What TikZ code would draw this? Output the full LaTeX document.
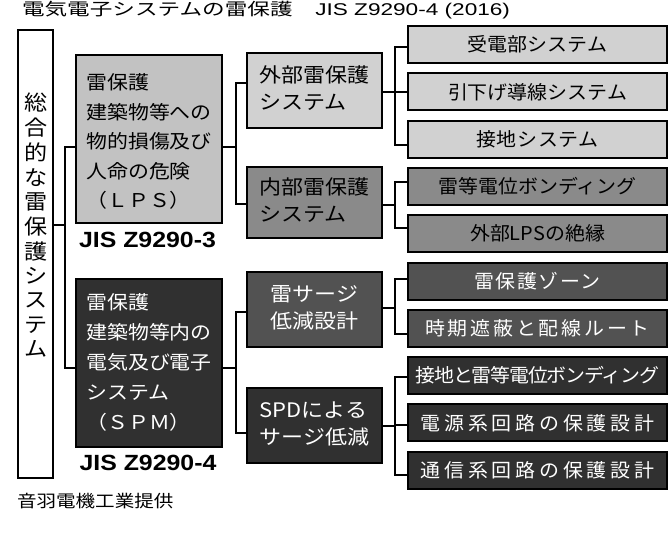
\documentclass[tikz,border=0pt]{standalone}
\usepackage{fontspec}
\usepackage{graphicx}
\setmainfont{Noto Sans CJK JP}
\newfontfamily\ars{Liberation Sans}
\usetikzlibrary{calc}
\definecolor{cLPS}{gray}{0.76}
\definecolor{cExt}{gray}{0.82}
\definecolor{cInt}{gray}{0.54}
\definecolor{cSur}{gray}{0.32}
\definecolor{cDark}{gray}{0.19}
\newcommand{\hsx}[2]{\scalebox{#1}[1]{#2}}
\newcommand{\rtx}[2]{\hsx{1.05}{\fontsize{19}{22}\selectfont\addfontfeatures{LetterSpace=#1}#2}}
\newcommand{\mtx}[2]{\hsx{1.1}{\fontsize{20}{27}\selectfont\begin{tabular}{@{}l@{}}#1\\#2\end{tabular}}}
\tikzset{
  every node/.style={inner sep=0pt, outer sep=0pt},
  box/.style={draw=black, line width=2pt, rectangle},
  rbox/.style={box, minimum width=259pt, minimum height=37pt},
  mbox/.style={box, minimum width=135pt},
  conn/.style={draw=black, line width=2pt},
}
\begin{document}
\begin{tikzpicture}[x=1pt,y=-1pt]
\fill[white] (0,0) rectangle (669,556);
\useasboundingbox (0,0) rectangle (669,556);

% title
\node[anchor=west] (title) at (22,10.5) {\hsx{1.33}{\fontsize{17}{20}\selectfont 電気電子システムの雷保護　{\ars JIS Z9290-4 (2016)}}};

% left box
\node[box, line width=1.5pt, fill=white, minimum width=35pt, minimum height=448pt] (L) at (35.5,254) {};
\node (Lt) at (36,228.5) {\hsx{1.1}{\fontsize{21}{24.3}\selectfont\begin{tabular}{@{}c@{}}総\\合\\的\\な\\雷\\保\\護\\シ\\ス\\テ\\ム\end{tabular}}};

% level 1
\node[box, fill=cLPS, minimum width=146pt, minimum height=168pt] (lps) at (149,139)
  {\raisebox{-4pt}[\height][\depth]{\hsx{1.1}{\fontsize{19}{29.5}\selectfont\begin{tabular}{@{}l@{}}雷保護\\建築物等への\\物的損傷及び\\人命の危険\\（ＬＰＳ）\end{tabular}}}};
\node (j3) at (147.5,239.5) {\hsx{1.13}{\ars\bfseries\fontsize{22}{24}\selectfont JIS Z9290-3}};
\node[box, fill=cDark, text=white, minimum width=146pt, minimum height=168pt] (spm) at (149,363)
  {\hsx{1.1}{\fontsize{19}{30}\selectfont\begin{tabular}{@{}l@{}}雷保護\\建築物等内の\\電気及び電子\\システム\\（ＳＰＭ）\end{tabular}}};
\node (j4) at (148,463) {\hsx{1.13}{\ars\bfseries\fontsize{22}{24}\selectfont JIS Z9290-4}};

% level 2
\node[mbox, fill=cExt, minimum height=75pt] (ext) at (314.5,90.5) {\mtx{外部雷保護}{システム}};
\node[mbox, fill=cInt, minimum height=71pt] (int) at (314.5,202.5) {\mtx{内部雷保護}{システム}};
\node[mbox, fill=cSur, text=white, minimum height=75pt] (sur) at (314.5,309.5) {\mtx{雷サージ}{低減設計}};
\node[mbox, fill=cDark, text=white, minimum height=75pt] (spd) at (314.5,425.5) {\mtx{SPDによる}{サージ低減}};

% level 3
\node[rbox, fill=cExt] (r1) at (537.5,44.5) {\rtx{0}{受電部システム}};
\node[rbox, fill=cExt] (r2) at (537.5,91.8) {\rtx{0}{引下げ導線システム}};
\node[rbox, fill=cExt] (r3) at (537.5,139.1) {\rtx{3}{接地システム}};
\node[rbox, fill=cInt] (r4) at (537.5,186.4) {\rtx{0}{雷等電位ボンディング}};
\node[rbox, fill=cInt] (r5) at (537.5,233.7) {\rtx{0}{外部LPSの絶縁}};
\node[rbox, fill=cSur, text=white] (r6) at (537.5,281.0) {\rtx{8}{雷保護ゾーン}};
\node[rbox, fill=cSur, text=white] (r7) at (537.5,328.3) {\rtx{14}{時期遮蔽と配線ルート}};
\node[rbox, fill=cDark, text=white] (r8) at (537.5,375.6) {\rtx{-6}{接地と雷等電位ボンディング}};
\node[rbox, fill=cDark, text=white] (r9) at (537.5,422.9) {\rtx{19}{電源系回路の保護設計}};
\node[rbox, fill=cDark, text=white] (r10) at (537.5,470.2) {\rtx{19}{通信系回路の保護設計}};

% footer
\node[anchor=west] (src) at (17,501) {\hsx{1.15}{\fontsize{17}{20}\selectfont 音羽電機工業提供}};

% connectors
\draw[conn] ($(L.east)+(0,-29)$) -| ($(lps.west)+(-11,8)$) -- ($(lps.west)+(0,8)$);
\draw[conn] ($(L.east)+(0,-29)$) -| ($(spm.west)+(-11,5)$) -- ($(spm.west)+(0,5)$);

\draw[conn] ($(lps.east)+(0,8)$) -| ($(ext.west)+(-11,-7.5)$) -- ($(ext.west)+(0,-7.5)$);
\draw[conn] ($(lps.east)+(0,8)$) -| ($(int.west)+(-11,1.5)$) -- ($(int.west)+(0,1.5)$);
\draw[conn] ($(spm.east)+(0,5)$) -| ($(sur.west)+(-11,2.5)$) -- ($(sur.west)+(0,2.5)$);
\draw[conn] ($(spm.east)+(0,5)$) -| ($(spd.west)+(-11,7.5)$) -- ($(spd.west)+(0,7.5)$);

\draw[conn] ($(ext.east)+(0,1.5)$) -| ($(r1.west)+(-13,2.5)$) -- ($(r1.west)+(0,2.5)$);
\draw[conn] ($(ext.east)+(0,1.5)$) -| ($(r2.west)+(-13,0)$) -- (r2.west);
\draw[conn] ($(ext.east)+(0,1.5)$) -| ($(r3.west)+(-13,6)$) -- ($(r3.west)+(0,6)$);

\draw[conn] ($(int.east)+(0,2.5)$) -| ($(r4.west)+(-13,-4.5)$) -- ($(r4.west)+(0,-4.5)$);
\draw[conn] ($(int.east)+(0,2.5)$) -| ($(r5.west)+(-13,-5.5)$) -- ($(r5.west)+(0,-5.5)$);

\draw[conn] ($(sur.east)+(0,-1.5)$) -| ($(r6.west)+(-13,-2)$) -- ($(r6.west)+(0,-2)$);
\draw[conn] ($(sur.east)+(0,-1.5)$) -| ($(r7.west)+(-13,5.7)$) -- ($(r7.west)+(0,5.7)$);

\draw[conn] ($(spd.east)+(0,0)$) -| ($(r8.west)+(-13,1.5)$) -- ($(r8.west)+(0,1.5)$);
\draw[conn] ($(spd.east)+(0,0)$) -| ($(r9.west)+(-13,2)$) -- ($(r9.west)+(0,2)$);
\draw[conn] ($(spd.east)+(0,0)$) -| ($(r10.west)+(-13,5)$) -- ($(r10.west)+(0,5)$);
\end{tikzpicture}
\end{document}
